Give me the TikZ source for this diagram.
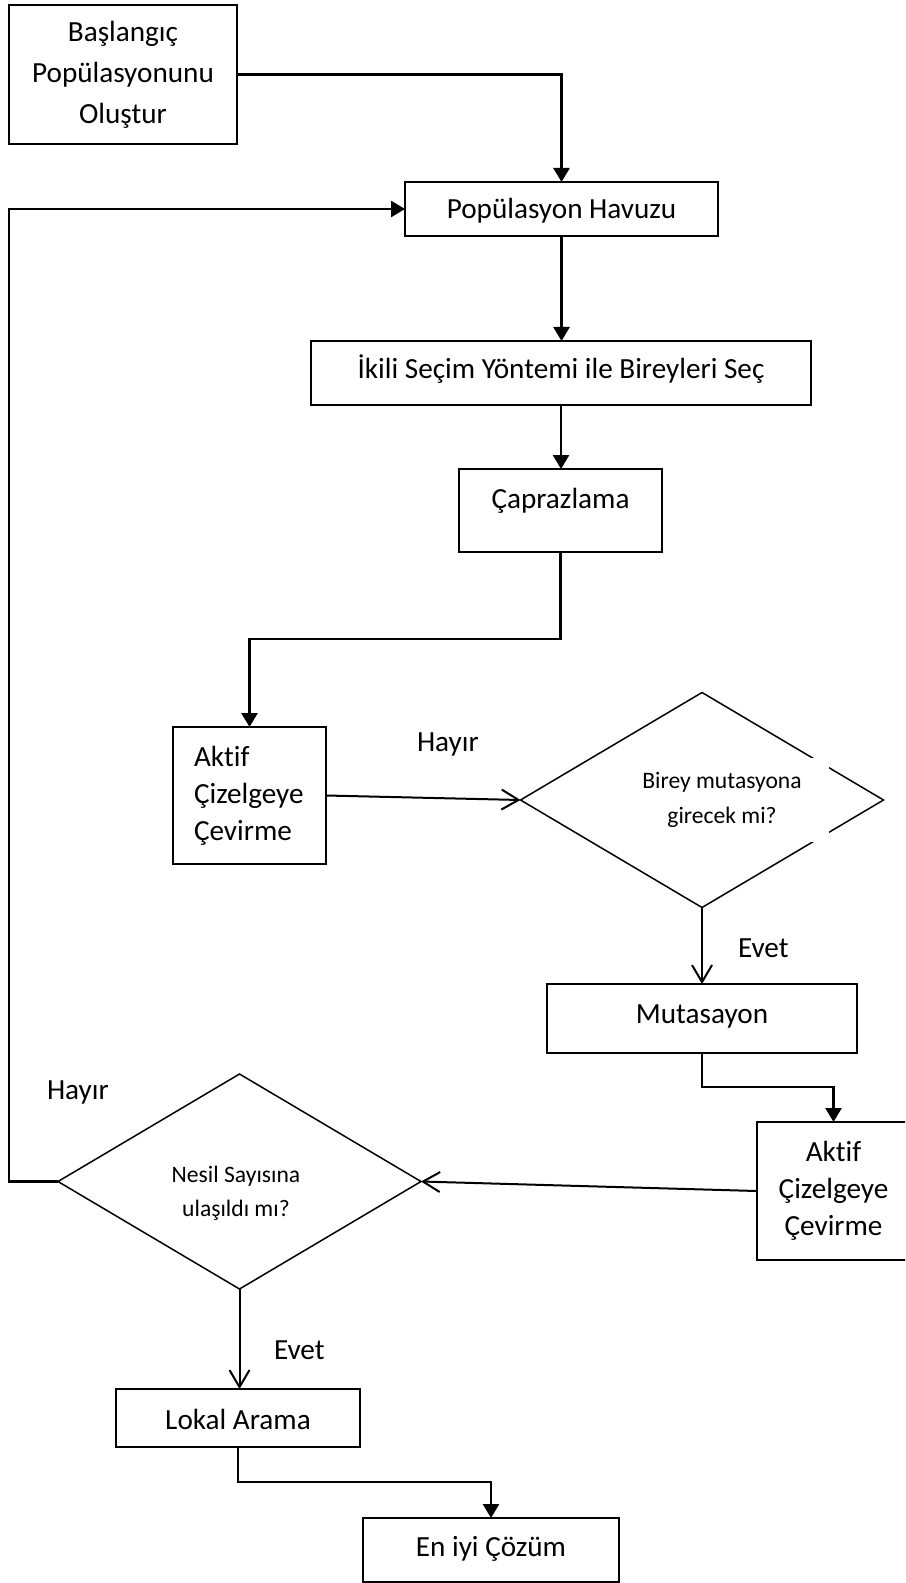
\documentclass[tikz,border=0pt]{standalone}
\usepackage{fontspec}
\setmainfont{Carlito}[RawFeature={-liga;-clig;-calt;-dlig}]
\usetikzlibrary{arrows.meta,shapes.geometric}
\newcommand{\aktif}{Akt\kern0pt{}if}
\begin{document}
\begin{tikzpicture}[x=0.5pt,y=-0.5pt,
  box/.style={draw, line width=0.9pt, inner sep=0pt, outer sep=0pt,
    font=\fontsize{14.6}{20.5}\selectfont, align=center},
  decision/.style={draw, diamond, line width=0.75pt, inner sep=0pt, outer sep=0pt},
  qtext/.style={inner sep=0pt, outer sep=0pt, align=center},
  answer/.style={inner sep=0pt, outer sep=0pt, anchor=base west,
    font=\fontsize{14.6}{17}\selectfont},
  conn/.style={line width=1.3pt, -{Triangle[length=7pt,width=8pt]}},
  flow/.style={line width=1pt, -{Straight Barb[length=8.5pt,width=10pt]}}
]
\clip (0,0) rectangle (905,1583);
\fill[white] (0,0) rectangle (905,1583);

% process boxes
\node[box, minimum width=114pt, minimum height=69.5pt] (start) at (123,74.5)
  {Başlangıç\\Popülasyonunu\\Oluştur};
\node[box, minimum width=156.5pt, minimum height=27pt, text height=12pt, text depth=2pt]
  (pool) at (561.5,209) {Popülasyon Havuzu};
\node[box, minimum width=250pt, minimum height=32pt, text height=12pt, text depth=6pt]
  (select) at (561,373) {İkili Seçim Yöntemi ile Bireyleri Seç};
\node[box, minimum width=101.5pt, minimum height=41.5pt, text height=12pt, text depth=14pt]
  (cross) at (560.5,510.5) {Çaprazlama};
\node[box, minimum width=76.5pt, minimum height=68.5pt, align=left, text width=55.5pt,
  font=\fontsize{14.6}{18.5}\selectfont] (active1) at (249.5,795.5)
  {\aktif\\Çizelgeye\\Çevirme};

% mutation decision
\node[decision, minimum width=181.5pt, minimum height=107.5pt] (mutq) at (702,800) {};
\node[qtext, fill=white, minimum width=107pt, minimum height=42pt,
  font=\fontsize{11.8}{17.5}\selectfont] (mutqtext) at (722,800)
  {Birey mutasyona\\girecek mi?};

\node[box, minimum width=155pt, minimum height=34.5pt, text height=12pt, text depth=7pt]
  (mutation) at (702,1018.5) {Mutasayon};
\node[box, minimum width=76.5pt, minimum height=69pt,
  font=\fontsize{14.6}{18.5}\selectfont] (active2) at (833.5,1191)
  {\aktif\\Çizelgeye\\Çevirme};

% generation decision
\node[decision, minimum width=181.5pt, minimum height=107.5pt] (genq) at (239.5,1181.5) {};
\node[qtext, font=\fontsize{11.8}{17}\selectfont] (genqtext) at (236,1193)
  {Nesil Sayısına\\ulaşıldı mı?};

\node[box, minimum width=122pt, minimum height=29pt, text height=12pt, text depth=1pt]
  (local) at (238,1418) {Lokal Arama};
\node[box, minimum width=128pt, minimum height=32pt, text height=12pt, text depth=5.3pt]
  (best) at (491,1550) {En iyi Çözüm};

% branch labels
\node[answer] (no1) at (417,751) {Hayır};
\node[answer] (yes1) at (738,957) {Evet};
\node[answer] (no2) at (47,1099) {Hayır};
\node[answer] (yes2) at (274,1359) {Evet};

% routing points
\coordinate (leftrail) at (9,0);
\coordinate (bend1) at (560.5,639);
\coordinate (bend2) at (702,1087);
\coordinate (bend3) at (238,1482);

% connectors
\draw[conn] (start.east) -| (pool.north);
\draw[conn] (pool.south) -- (pool.south |- select.north);
\draw[conn] (select.south) -- (select.south |- cross.north);
\draw[conn] (cross.south) -- (bend1) -| (active1.north);
\draw[flow] (active1.east) -- (mutq.west);
\draw[flow] (mutq.south) -- (mutation.north);
\draw[conn] (mutation.south) -- (bend2) -| (active2.north);
\draw[flow] (active2.west) -- (genq.east);
\draw[conn] (genq.west) -- (genq.west -| leftrail) |- (pool.west);
\draw[flow] (genq.south) -- (genq.south |- local.north);
\draw[conn] (local.south) -- (bend3) -| (best.north);
\end{tikzpicture}
\end{document}
